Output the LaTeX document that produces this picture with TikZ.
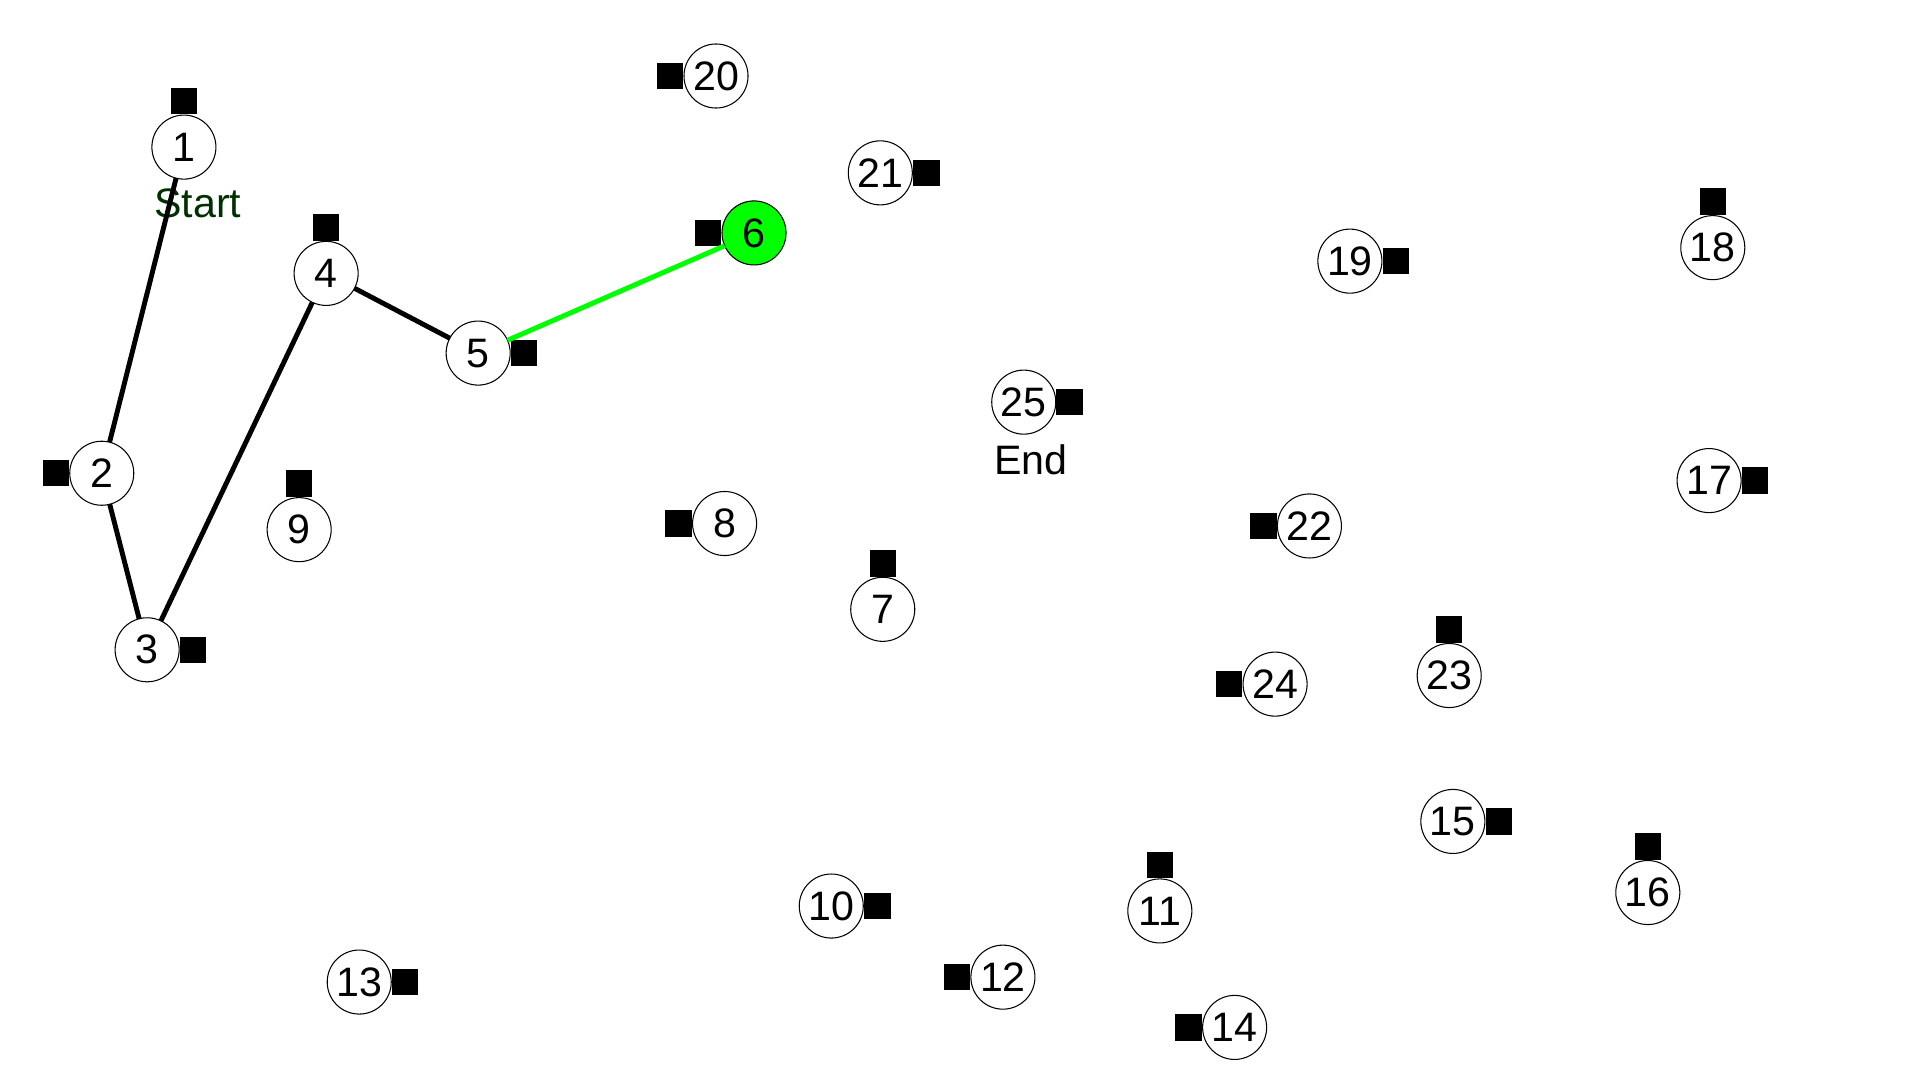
\documentclass[tikz,border=0pt]{standalone}
\usepackage{fontspec}
\setmainfont{Liberation Sans}
\usepackage{tikz}
\usepackage{tkz-graph}
\usetikzlibrary{positioning}
\definecolor{startgreen}{RGB}{0,48,0}
\definecolor{visited}{RGB}{0,255,0}
\tikzset{
  marker/.style={fill=black,inner sep=0pt,minimum size=0.265cm},
  tag/.style={inner sep=0pt,font=\fontsize{11.7}{14}\selectfont}
}

\begin{document}
\begin{tikzpicture}[x=0.01226cm,y=-0.01226cm]
    \useasboundingbox (0,0) rectangle (1566,881);
    \GraphInit[vstyle=Normal]
    \SetUpEdge[lw=1.4pt,color=black]
    \tikzset{VertexStyle/.style={draw,circle,fill=white,line width=0.3pt,
        minimum size=0.64cm,inner sep=0pt,font=\fontsize{11.7}{14}\selectfont}}
    \Vertex[x=150,y=120,L=1]{a1}   \Vertex[x=83,y=386,L=2]{a2}
    \Vertex[x=120,y=530,L=3]{a3}   \Vertex[x=266,y=223,L=4]{a4}
    \Vertex[x=390,y=288,L=5]{a5}
    \begin{scope}[VertexStyle/.append style={fill=visited}]
      \Vertex[x=615,y=190,L=6]{a6}
    \end{scope}
    \Vertex[x=720,y=497,L=7]{a7}   \Vertex[x=591,y=427,L=8]{a8}
    \Vertex[x=244,y=432,L=9]{a9}   \Vertex[x=678,y=739,L=10]{a10}
    \Vertex[x=946,y=743,L=11]{a11} \Vertex[x=818,y=797,L=12]{a12}
    \Vertex[x=293,y=801,L=13]{a13} \Vertex[x=1007,y=838,L=14]{a14}
    \Vertex[x=1185,y=670,L=15]{a15} \Vertex[x=1344,y=728,L=16]{a16}
    \Vertex[x=1394,y=392,L=17]{a17} \Vertex[x=1397,y=202,L=18]{a18}
    \Vertex[x=1101,y=213,L=19]{a19} \Vertex[x=584,y=62,L=20]{a20}
    \Vertex[x=718,y=141,L=21]{a21} \Vertex[x=1068,y=429,L=22]{a22}
    \Vertex[x=1182,y=551,L=23]{a23} \Vertex[x=1040,y=558,L=24]{a24}
    \Vertex[x=835,y=328,L=25]{a25}
    \foreach \v/\side in {1/above,2/left,3/right,4/above,5/right,6/left,7/above,
        8/left,9/above,10/right,11/above,12/left,13/right,14/left,15/right,
        16/above,17/right,18/above,19/right,20/left,21/right,22/left,23/above,
        24/left,25/right}
      \node[marker,\side=0pt of a\v] (m\v) {};
    \node[tag,text=startgreen,below=0.09cm of a1,xshift=0.14cm] (start) {Start};
    \node[tag,below=0.1cm of a25,xshift=0.07cm] (end) {End};
    \Edge(a1)(a2) \Edge(a2)(a3) \Edge(a3)(a4) \Edge(a4)(a5)
    \Edge[color=visited](a5)(a6)
\end{tikzpicture}
\end{document}
